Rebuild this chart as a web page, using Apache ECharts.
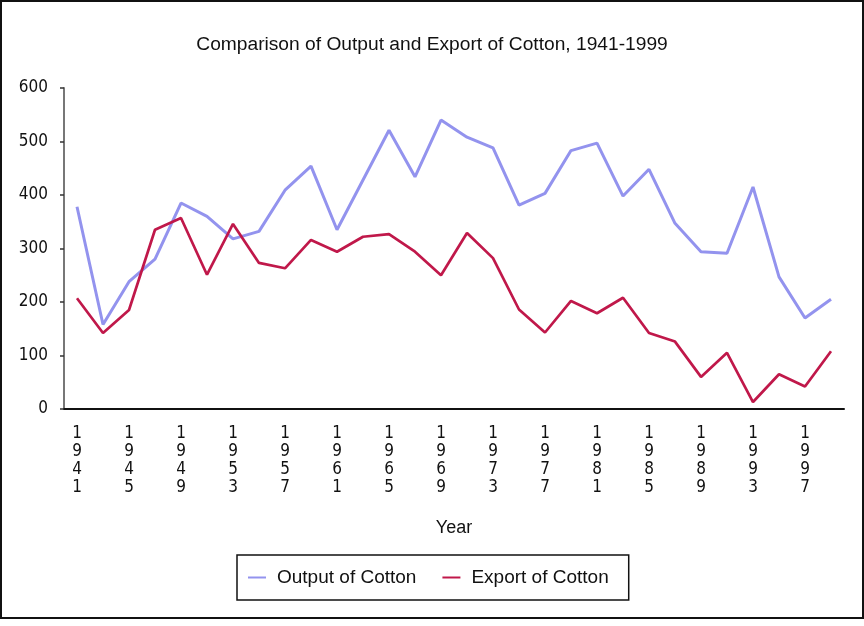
<!DOCTYPE html>
<html>
<head>
<meta charset="utf-8">
<script src="https://cdn.jsdelivr.net/npm/echarts@6/dist/echarts.min.js"></script>
<style>
  html, body { margin: 0; padding: 0; background: #fff; }
  #wrap { position: relative; width: 864px; height: 626px; }
  #chart { position: absolute; left: 0; top: 0; width: 864px; height: 626px; }
  #frame { position: absolute; left: 0; top: 0; width: 860px; height: 615px; border: 2px solid #111; pointer-events: none; }
</style>
</head>
<body>
<div id="wrap">
  <div id="chart"></div>
  <div id="frame"></div>
</div>
<script>
const years = ['1941','1943','1945','1947','1949','1951','1953','1955','1957','1959',
               '1961','1963','1965','1967','1969','1971','1973','1975','1977','1979',
               '1981','1983','1985','1987','1989','1991','1993','1995','1997','1999'];
const outputOfCotton = [378, 158, 238, 280, 385, 360, 318, 332, 409, 454,
                        335, 428, 521, 434, 540, 508, 488, 381, 403, 483,
                        497, 398, 448, 347, 294, 291, 415, 247, 170, 205];
const exportOfCotton = [207, 142, 185, 335, 357, 251, 346, 273, 263, 316,
                        294, 322, 327, 294, 250, 329, 282, 186, 143, 202,
                        179, 208, 142, 126, 60, 105, 13, 65, 42, 108];
const yTicks = { min: 0, max: 600, interval: 100 };
const titleText = 'Comparison of Output and Export of Cotton, 1941-1999';
const seriesNames = ['Output of Cotton', 'Export of Cotton'];

const narrow = '"DejaVu Sans Condensed", "Liberation Sans", sans-serif';
const regular = '"Liberation Sans", Arial, sans-serif';

const chart = echarts.init(document.getElementById('chart'), null, { renderer: 'canvas' });
chart.setOption({
  animation: false,
  backgroundColor: '#fff',
  title: {
    text: titleText,
    left: 'center',
    top: 30,
    textStyle: { fontFamily: regular, fontSize: 19.2, fontWeight: 'normal', color: '#111' }
  },
  grid: { left: 64, right: 20, top: 88, bottom: 217, containLabel: false },
  legend: {
    data: seriesNames,
    left: 237,
    top: 555,
    orient: 'horizontal',
    borderColor: '#111',
    borderWidth: 1.5,
    borderRadius: 0,
    padding: [13, 20, 13, 11],
    itemGap: 26,
    itemWidth: 18,
    itemHeight: 2,
    icon: 'rect',
    textStyle: { fontFamily: regular, fontSize: 19, color: '#111', padding: [0, 0, 0, 6] }
  },
  xAxis: {
    type: 'category',
    data: years,
    boundaryGap: true,
    name: 'Year',
    nameLocation: 'middle',
    nameGap: 110,
    nameTextStyle: { fontFamily: regular, fontSize: 18, color: '#111' },
    axisLine: { lineStyle: { color: '#111', width: 2 } },
    axisTick: { show: false },
    axisLabel: {
      interval: 1,
      margin: 16,
      fontFamily: narrow,
      fontSize: 17,
      lineHeight: 18,
      color: '#111',
      formatter: function (v) { return v.split('').join('\n'); }
    },
    splitLine: { show: false }
  },
  yAxis: {
    type: 'value',
    min: yTicks.min,
    max: yTicks.max,
    interval: yTicks.interval,
    axisLine: { show: true, lineStyle: { color: '#777', width: 2 } },
    axisTick: { show: true, length: 4, lineStyle: { color: '#333', width: 1.5 } },
    axisLabel: { margin: 16, fontFamily: narrow, fontSize: 17, color: '#111' },
    splitLine: { show: false }
  },
  series: [
    {
      name: seriesNames[0],
      type: 'line',
      data: outputOfCotton,
      symbol: 'none',
      lineStyle: { color: '#9393ee', width: 3 },
      itemStyle: { color: '#9393ee' }
    },
    {
      name: seriesNames[1],
      type: 'line',
      data: exportOfCotton,
      symbol: 'none',
      lineStyle: { color: '#c0184a', width: 2.7 },
      itemStyle: { color: '#c0184a' }
    }
  ]
});
</script>
</body>
</html>
